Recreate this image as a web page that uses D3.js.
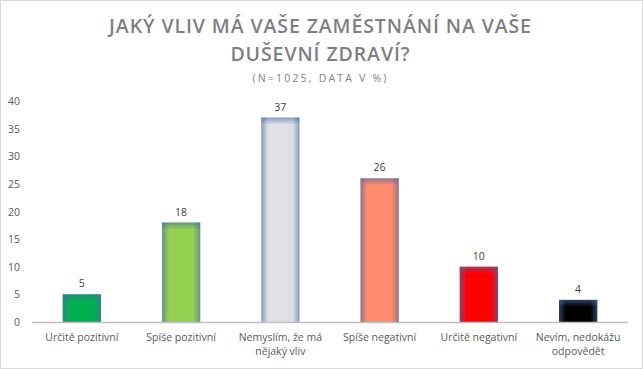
<!DOCTYPE html>
<html><head><meta charset="utf-8">
<script src="https://cdn.jsdelivr.net/npm/d3@7"></script>
<style>
html,body{margin:0;padding:0;background:#fff;}
svg{display:block;}
text{font-family:"Open Sans","Noto Sans",sans-serif;}
</style></head>
<body>
<script>
const categories = ["Určitě pozitivní","Spíše pozitivní","Nemyslím, že má nějaký vliv","Spíše negativní","Určitě negativní","Nevím, nedokážu odpovědět"];
const labelLines = [["Určitě pozitivní"],["Spíše pozitivní"],["Nemyslím, že má","nějaký vliv"],["Spíše negativní"],["Určitě negativní"],["Nevím, nedokážu","odpovědět"]];
const values = [5, 18, 37, 26, 10, 4];
const barColors = ["#00b050","#92d050","#e0e0e4","#ff8c6c","#ff0000","#000000"];
const yTicks = [0,5,10,15,20,25,30,35,40];
const titleLines = ["JAKÝ VLIV MÁ VAŠE ZAMĚSTNÁNÍ NA VAŠE","DUŠEVNÍ ZDRAVÍ?"];
const subtitle = "(N=1025, DATA V %)";

const W=643,H=369;
const svg=d3.select("body").append("svg").attr("width",W).attr("height",H);
svg.append("rect").attr("x",0.5).attr("y",0.5).attr("width",W-1).attr("height",H-1)
  .attr("fill","#fff").attr("stroke","#d9d9d9");

const x=d3.scaleBand().domain(categories).range([32,628]).paddingInner(0.615).paddingOuter(0.31);
const y=d3.scaleLinear().domain([0,40]).range([322,101]);

// title
svg.append("g").selectAll("text").data(titleLines).join("text")
  .attr("x",W/2-1).attr("y",(d,i)=>33+i*28).attr("text-anchor","middle")
  .attr("font-size",19.5).attr("font-weight",600).attr("letter-spacing",0.9)
  .attr("fill","#7f7f7f").text(d=>d);
svg.append("text").attr("x",W/2-1).attr("y",82).attr("text-anchor","middle")
  .attr("font-size",10.5).attr("letter-spacing",2.2).attr("fill","#7f7f7f").text(subtitle);

// y axis labels
svg.append("g").selectAll("text").data(yTicks).join("text")
  .attr("x",20).attr("y",d=>y(d)+4).attr("text-anchor","end")
  .attr("font-size",10.5).attr("fill","#595959").text(d=>d);

const defs=svg.append("defs");
const edge="#4a6aa8";
const hg=defs.append("linearGradient").attr("id","hEdge").attr("x1","0").attr("x2","1").attr("y1","0").attr("y2","0");
[[0,0.6],[0.18,0],[0.82,0],[1,0.6]].forEach(s=>hg.append("stop").attr("offset",s[0]).attr("stop-color",edge).attr("stop-opacity",s[1]));

const bars=svg.append("g");
values.forEach((v,i)=>{
  const bx=x(categories[i]), bw=x.bandwidth(), by=y(v), bh=y(0)-y(v);
  const vg=defs.append("linearGradient").attr("id","vEdge"+i).attr("gradientUnits","userSpaceOnUse")
    .attr("x1",0).attr("x2",0).attr("y1",by).attr("y2",by+7);
  vg.append("stop").attr("offset",0).attr("stop-color",edge).attr("stop-opacity",0.6);
  vg.append("stop").attr("offset",1).attr("stop-color",edge).attr("stop-opacity",0);
  bars.append("rect").attr("x",bx).attr("y",by).attr("width",bw).attr("height",bh).attr("fill",barColors[i]);
  bars.append("rect").attr("x",bx).attr("y",by).attr("width",bw).attr("height",bh).attr("fill","url(#hEdge)");
  bars.append("rect").attr("x",bx).attr("y",by).attr("width",bw).attr("height",bh).attr("fill","url(#vEdge"+i+")");
});

// value labels
svg.append("g").selectAll("text").data(values).join("text")
  .attr("x",(d,i)=>x(categories[i])+x.bandwidth()/2).attr("y",d=>y(d)-7)
  .attr("text-anchor","middle").attr("font-size",10.5).attr("fill","#404040").text(d=>d);

// baseline
svg.append("line").attr("x1",32).attr("x2",628).attr("y1",y(0)+0.5).attr("y2",y(0)+0.5)
  .attr("stroke","#bfbfbf").attr("stroke-width",1.5);

// category labels
const cg=svg.append("g");
labelLines.forEach((lines,i)=>{
  const t=cg.append("text").attr("x",x(categories[i])+x.bandwidth()/2).attr("y",341)
    .attr("text-anchor","middle").attr("font-size",10.5).attr("fill","#595959");
  lines.forEach((l,j)=>t.append("tspan").attr("x",x(categories[i])+x.bandwidth()/2).attr("dy",j?14:0).text(l));
});
</script>
</body></html>
